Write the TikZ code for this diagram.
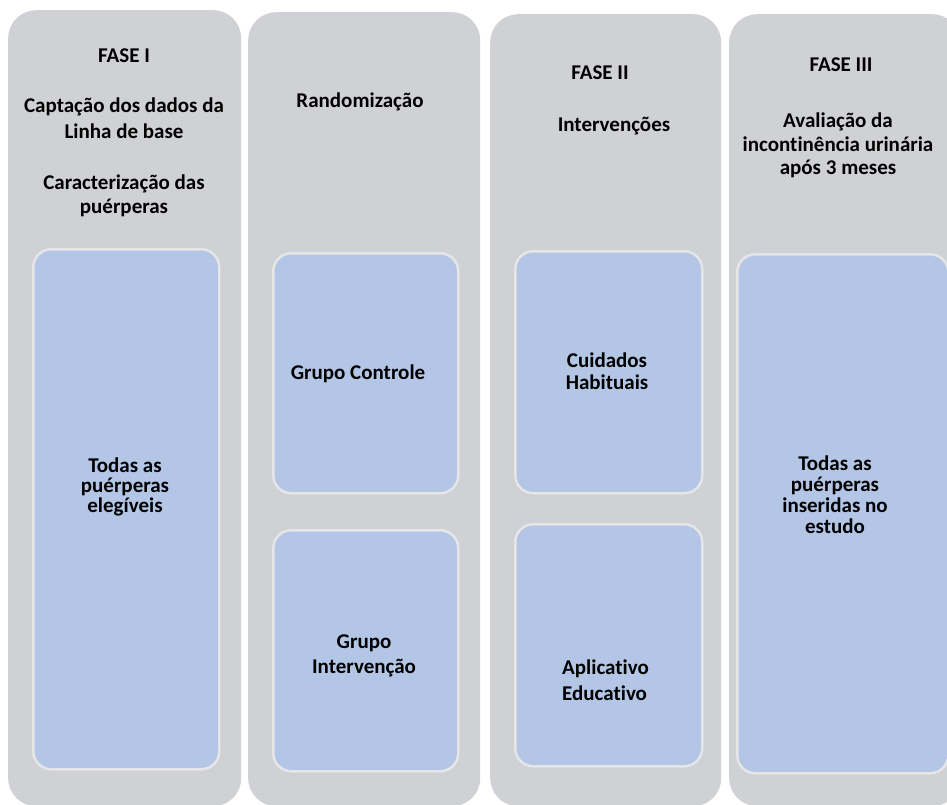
\documentclass[tikz,border=0pt]{standalone}
\usepackage{fontspec}
\setmainfont{Carlito}[Ligatures=NoCommon]
\definecolor{colgrey}{HTML}{D0D1D5}
\definecolor{cellblue}{HTML}{B4C6E6}
\definecolor{cellline}{HTML}{E6E6E8}
\begin{document}
\begin{tikzpicture}[x=1pt,y=-1pt,
  phase/.style={draw=none, fill=colgrey, rounded corners=28pt, inner sep=0pt,
    anchor=north west, minimum height=796pt},
  cell/.style={draw=cellline, line width=2.5pt, fill=cellblue, rounded corners=18pt,
    inner sep=0pt, anchor=north west},
  txt/.style={font=\fontsize{21}{25}\selectfont\bfseries, align=center,
    inner sep=0pt, anchor=base},
  lead/.style={font=\fontsize{21}{#1}\selectfont\bfseries}]
\useasboundingbox (0,0) rectangle (947,805);
\clip (0,0) rectangle (947,805);

% phase columns
\node[phase, minimum width=233pt] (c1) at (8,10) {};
\node[phase, minimum width=232pt, minimum height=794pt] (c2) at (248,12) {};
\node[phase, minimum width=231pt, minimum height=792pt] (c3) at (490,14) {};
\node[phase, minimum width=231pt, minimum height=792pt] (c4) at (729,14) {};

% column headings (multi-line nodes sit on the baseline of their last line)
\node[txt] (h1a) at (124,63) {FASE I};
\node[txt, lead=26] (h1b) at (124,139) {Captação dos dados da\\Linha de base};
\node[txt, lead=24] (h1c) at (124,213) {Caracterização das\\puérperas};
\node[txt] (h2) at (360,108) {Randomização};
\node[txt] (h3a) at (600,80) {FASE II};
\node[txt] (h3b) at (614,132) {Intervenções};
\node[txt] (h4a) at (841,72) {FASE III};
\node[txt, lead=23.5] (h4b) at (838,175)
  {Avaliação da\\incontinência urinária\\após 3 meses};

% cells
\node[cell, minimum width=186pt, minimum height=520pt] (b1) at (32,248) {};
\node[cell, minimum width=185pt, minimum height=240pt] (b2a) at (272,252) {};
\node[cell, minimum width=185pt, minimum height=241pt] (b2b) at (272,529) {};
\node[cell, minimum width=187pt, minimum height=242pt] (b3a) at (514,250) {};
\node[cell, minimum width=187pt, minimum height=242pt] (b3b) at (514,523) {};
\node[cell, minimum width=211pt, minimum height=519pt] (b4) at (736,253) {};

% cell texts
\node[txt, lead=20] (t1) at (125,512) {Todas as\\puérperas\\elegíveis};
\node[txt] (t2a) at (358,379) {Grupo Controle};
\node[txt, lead=25] (t2b) at (364,673) {Grupo\\Intervenção};
\node[txt, lead=22] (t3a) at (607,389) {Cuidados\\Habituais};
\node[txt, lead=26, align=left, anchor=base west] (t3b) at (562,700)
  {Aplicativo\\Educativo};
\node[txt, lead=20.7] (t4) at (835,533)
  {Todas as\\puérperas\\inseridas no\\estudo};
\end{tikzpicture}
\end{document}
